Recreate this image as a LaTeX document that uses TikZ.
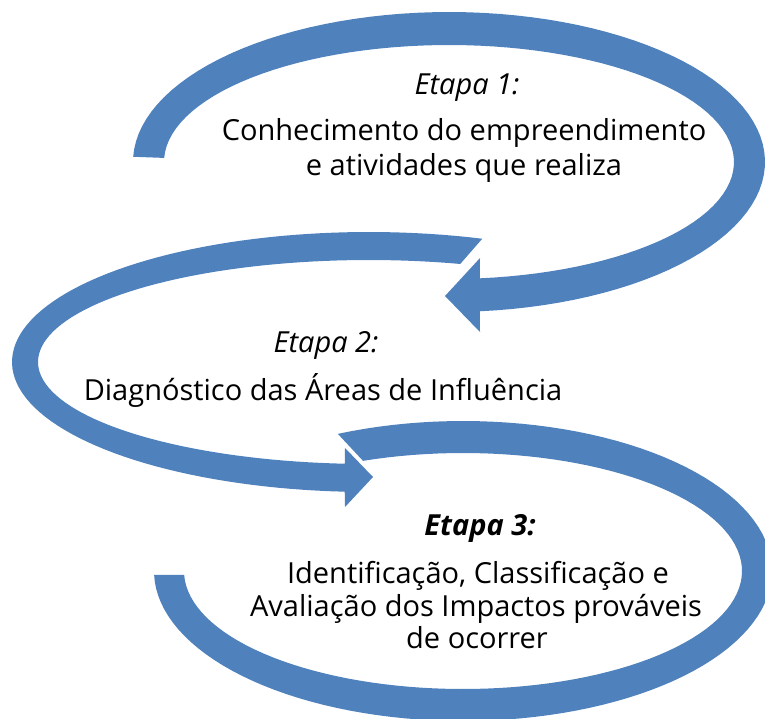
\documentclass[tikz,border=0pt]{standalone}
\usepackage{fontspec}
\setmainfont{Open Sans}
\definecolor{arrowblue}{HTML}{4F81BD}
\begin{document}
\begin{tikzpicture}[x=1pt,y=-1pt,
  arrowfill/.style={fill=arrowblue},
  lbl/.style={font=\fontsize{29}{33}\selectfont, anchor=base, inner sep=0pt},
  etapa/.style={font=\fontsize{29}{33}\selectfont\itshape, anchor=base, inner sep=0pt}]
\useasboundingbox (0,0) rectangle (765,718);
% Arrow 1
\fill[arrowfill] plot[domain=182:444.4, samples=90, variable=\t] ({449+316*cos(\t)},{162+150*sin(\t)})
  -- (480,332) -- (445,296) -- (480,258)
  -- plot[domain=443.8:182, samples=90, variable=\t] ({449+285*cos(\t)},{162+117*sin(\t)}) -- cycle;
% Arrow 2
\fill[arrowfill] plot[domain=288.5:93.9, samples=90, variable=\t] ({369+357*cos(\t)},{362+130*sin(\t)})
  -- (345,507) -- (373,477) -- (345,448)
  -- plot[domain=94.2:286, samples=90, variable=\t] ({369+331*cos(\t)},{362+102*sin(\t)}) -- cycle;
% Arrow 3
\fill[arrowfill] plot[domain=246.1:538.5, samples=110, variable=\t] ({463+309*cos(\t)},{571+150*sin(\t)})
  -- plot[domain=538.1:249, samples=110, variable=\t] ({463+279*cos(\t)},{571+118*sin(\t)}) -- cycle;
% Texts
\node[etapa] (e1) at (467,94) {Etapa 1:};
\node[lbl] (t1a) at (464,140) {Conhecimento do empreendimento};
\node[lbl] (t1b) at (464,175) {e atividades que realiza};
\node[etapa] (e2) at (326,352) {Etapa 2:};
\node[lbl] (t2) at (323,400) {Diagnóstico das Áreas de Influência};
\node[etapa, font=\fontsize{29}{33}\selectfont\bfseries\itshape] (e3) at (480,535) {Etapa 3:};
\node[lbl] (t3a) at (478,583) {Identificação, Classificação e};
\node[lbl] (t3b) at (476,616) {Avaliação dos Impactos prováveis};
\node[lbl] (t3c) at (477,648) {de ocorrer};
\end{tikzpicture}
\end{document}
